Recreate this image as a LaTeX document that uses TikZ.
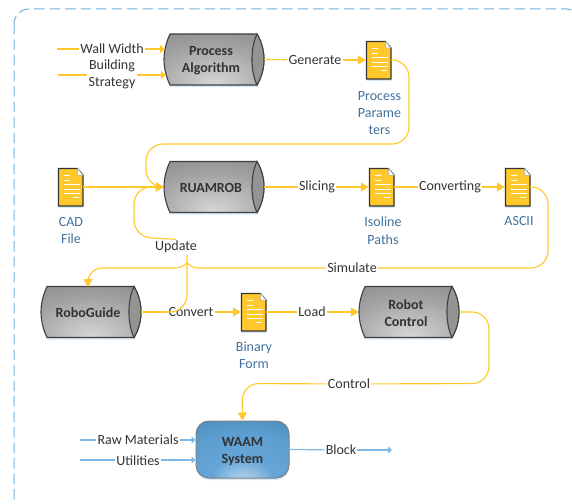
\documentclass[tikz,border=0pt]{standalone}
\usepackage{fontspec}
\setmainfont{Carlito}
\usetikzlibrary{arrows.meta,shadows}
\definecolor{flowyellow}{HTML}{FFC92E}
\definecolor{flowblue}{HTML}{7DB8E6}
\definecolor{framblue}{HTML}{6FB0E0}
\definecolor{doctext}{HTML}{41719C}
\definecolor{labeltext}{HTML}{333333}
\definecolor{waamdark}{HTML}{2F6FA3}
\definecolor{waammid}{HTML}{5C9DD0}
\definecolor{waamlight}{HTML}{BCD8EE}
\pgfdeclareradialshading{drumshade}{\pgfpoint{0bp}{-24bp}}{color(0bp)=(black!16); color(30bp)=(black!36); color(62bp)=(black!52); color(100bp)=(black!58)}
\pgfdeclareradialshading{waamshade}{\pgfpoint{0bp}{-28bp}}{color(0bp)=(waamlight); color(16bp)=(waammid!70!flowblue); color(35bp)=(waammid); color(68bp)=(waamdark); color(100bp)=(waamdark)}
\tikzset{
	glow/.style={drop shadow={shadow xshift=0pt,shadow yshift=-2pt,fill=flowblue,opacity=0.3}},
	flow/.style={color=flowyellow,line width=1.15pt},
	flowin/.style={flow,-{Triangle[length=8pt,width=9pt]}},
	flowsmall/.style={flow,-{Triangle[length=5pt,width=8pt]}},
	supply/.style={color=flowblue,line width=1.15pt},
	supplyin/.style={supply,-{Triangle[length=4pt,width=7pt]}},
	linelabel/.style={inner sep=1pt,text=labeltext,align=center,font=\fontsize{14}{17}\selectfont},
	doclabel/.style={inner sep=0pt,text=doctext,align=center,font=\fontsize{14}{17.4}\selectfont},
	drumbox/.style={inner sep=0pt,minimum width=100pt,minimum height=51pt},
	drumtext/.style={inner sep=0pt,text=labeltext,align=center,font=\fontsize{14}{17}\selectfont\bfseries},
	docbox/.style={inner sep=0pt,minimum width=25pt,minimum height=38pt},
	waambox/.style={draw=black!50,line width=1pt,rounded corners=13pt,shading=waamshade,glow,minimum width=93pt,minimum height=57pt,inner sep=0pt}
}
\def\drumnode(#1)(#2)#3{
	\begin{scope}[shift={(#2)}]
		\draw[line width=1.1pt,draw=black!75,shading=drumshade,glow] (43,-25.5) .. controls (48,-17) and (50,-8) .. (50,0) .. controls (50,8) and (48,17) .. (43,25.5) -- (-44,25.5) .. controls (-48,17) and (-50,8) .. (-50,0) .. controls (-50,-8) and (-48,-17) .. (-44,-25.5) -- cycle;
		\draw[line width=1.1pt,draw=black!75,fill=black!42] (43,-25.5) .. controls (48,-17) and (50,-8) .. (50,0) .. controls (50,8) and (48,17) .. (43,25.5) .. controls (39,17) and (38,8) .. (38,0) .. controls (38,-8) and (39,-17) .. (43,-25.5) -- cycle;
		\node[drumtext] (#1text) at (-3,1) {#3};
	\end{scope}
	\node[drumbox] (#1) at (#2) {};
}
\def\docnode(#1)(#2){
	\begin{scope}[shift={(#2)}]
		\draw[line width=1.1pt,draw=black!80,fill=flowyellow,glow] (-12,-18.5) -- (7,-18.5) -- (12.5,-12) -- (12.5,19) -- (-12,19) -- cycle;
		\draw[line width=0.5pt,draw=black!35,fill=white] (7,-18.5) -- (12.5,-12) -- (7,-12) -- cycle;
		\foreach \ly in {-11.5,-7,-2.5,2,6.5} {
			\draw[white,line width=0.7pt] (-7,\ly) -- ({\ly<-6?-1:9},\ly);
		}
		\draw[white,line width=0.7pt] (2,10.5) -- (8,10.5);
	\end{scope}
	\node[docbox] (#1) at (#2) {};
}

\begin{document}
\begin{tikzpicture}[x=1pt,y=-1pt]
	%%%%% FRAME %%%%%
	\clip (0,0) rectangle (572,503);
	\draw[color=framblue,line width=1pt,dash pattern=on 10.5pt off 5pt,rounded corners=15pt] (14,9) rectangle (581,513);
	
	%%%%% BOXES %%%%%
	\drumnode(algorithm)(214,59.5){Process\\Algorithm}
	\drumnode(ruamrob)(214,187){RUAMROB}
	\drumnode(roboguide)(91,312){RoboGuide}
	\drumnode(robotcontrol)(409,312){Robot\\Control}
	\node[waambox] (waam) at (242.5,449.5) {};
	\node[drumtext] (waamtext) at (242.5,451.5) {WAAM\\System};
	
	\docnode(parameters)(378.5,60)
	\docnode(cadfile)(70.5,187)
	\docnode(isoline)(381.5,187)
	\docnode(ascii)(517.5,187)
	\docnode(binary)(253.5,312)
	
	\node[doclabel] (parameterstext) at (379.5,113) {Process\\Parame\\ters};
	\node[doclabel] (cadtext) at (71,230.5) {CAD\\File};
	\node[doclabel] (isolinetext) at (383,230.5) {Isoline\\Paths};
	\node[doclabel] (asciitext) at (519,221.5) {ASCII};
	\node[doclabel] (binarytext) at (254,355.5) {Binary\\Form};
	
	%%%%% LABELS %%%%%
	\node[linelabel] (wallwidth) at (112,49) {Wall Width};
	\node[linelabel] (strategy) at (112,74.5) {Building\\Strategy};
	\node[linelabel] (generate) at (315,60) {Generate};
	\node[linelabel] (slicing) at (317,187) {Slicing};
	\node[linelabel] (converting) at (450,187) {Converting};
	\node[linelabel] (update) at (176,246.5) {Update};
	\node[linelabel] (simulate) at (352,268) {Simulate};
	\node[linelabel] (convert) at (191,312) {Convert};
	\node[linelabel] (load) at (312,312) {Load};
	\node[linelabel] (control) at (349,384) {Control};
	\node[linelabel] (rawmaterials) at (138,440) {Raw Materials};
	\node[linelabel] (utilities) at (138,461) {Utilities};
	\node[linelabel] (block) at (341,450) {Block};
	
	\coordinate (wallstart) at (57,49);
	\coordinate (strategystart) at (58,75);
	\coordinate (rawstart) at (80,440);
	\coordinate (utilstart) at (80,460);
	\coordinate (blockend) at (392,450);
	
	%%%%% CONNECTORS %%%%%
	\draw[flow] (wallstart) -- (wallwidth);
	\draw[flowsmall] (wallwidth) -- (165,49);
	\draw[flow] (strategystart) -- (strategy.west |- strategystart);
	\draw[flowsmall] (strategy.east |- strategystart) -- (166,75);
	\draw[flow] (algorithm.east) -- (generate);
	\draw[flowin] (generate) -- (parameters.west);
	\draw[flowin,rounded corners=17pt] (parameters.east) -- (409,60) -- (409,144) -- (146,144) -- (146,187) -- (ruamrob.west);
	\draw[flowin] (cadfile.east) -- (ruamrob.west);
	\draw[flow] (ruamrob.east) -- (slicing);
	\draw[flowin] (slicing) -- (isoline.west);
	\draw[flow] (isoline.east) -- (converting);
	\draw[flowin] (converting) -- (ascii.west);
	
	\draw[flow,rounded corners=17pt] (ascii.east) -- (548,187) -- (548,268) -- (simulate);
	\draw[flow] (simulate) -- (199,268) .. controls (193,268) and (191,266) .. (187,263) .. controls (183,266) and (181,268) .. (175,268) -- (103,268);
	\draw[flowin] (103,268) .. controls (94,268) and (88,274) .. (88,282) -- (88,287);
	
	\draw[flow,rounded corners=17pt] (roboguide.east) -- (187,312) -- (187,255);
	\draw[flowin,rounded corners=17pt] (update.north) -- (134,237) -- (134,187) -- (ruamrob.west);
	
	\draw[flow] (roboguide.east) -- (convert);
	\draw[flowin] (convert) -- (binary.west);
	\draw[flow] (binary.east) -- (load);
	\draw[flowin] (load) -- (robotcontrol.west);
	\draw[flow,rounded corners=17pt] (robotcontrol.east) -- (489,312) -- (489,383.5) -- (control);
	\draw[flowin,rounded corners=17pt] (control) -- (242,383.5) -- (waam.north);
	
	\draw[supply] (rawstart) -- (rawmaterials);
	\draw[supplyin] (rawmaterials) -- (waam.west |- rawstart);
	\draw[supply] (utilstart) -- (utilities.west |- utilstart);
	\draw[supplyin] (utilities.east |- utilstart) -- (waam.west |- utilstart);
	\draw[supply] (waam.east) -- (block);
	\draw[supplyin] (block) -- (blockend);
\end{tikzpicture}
\end{document}
